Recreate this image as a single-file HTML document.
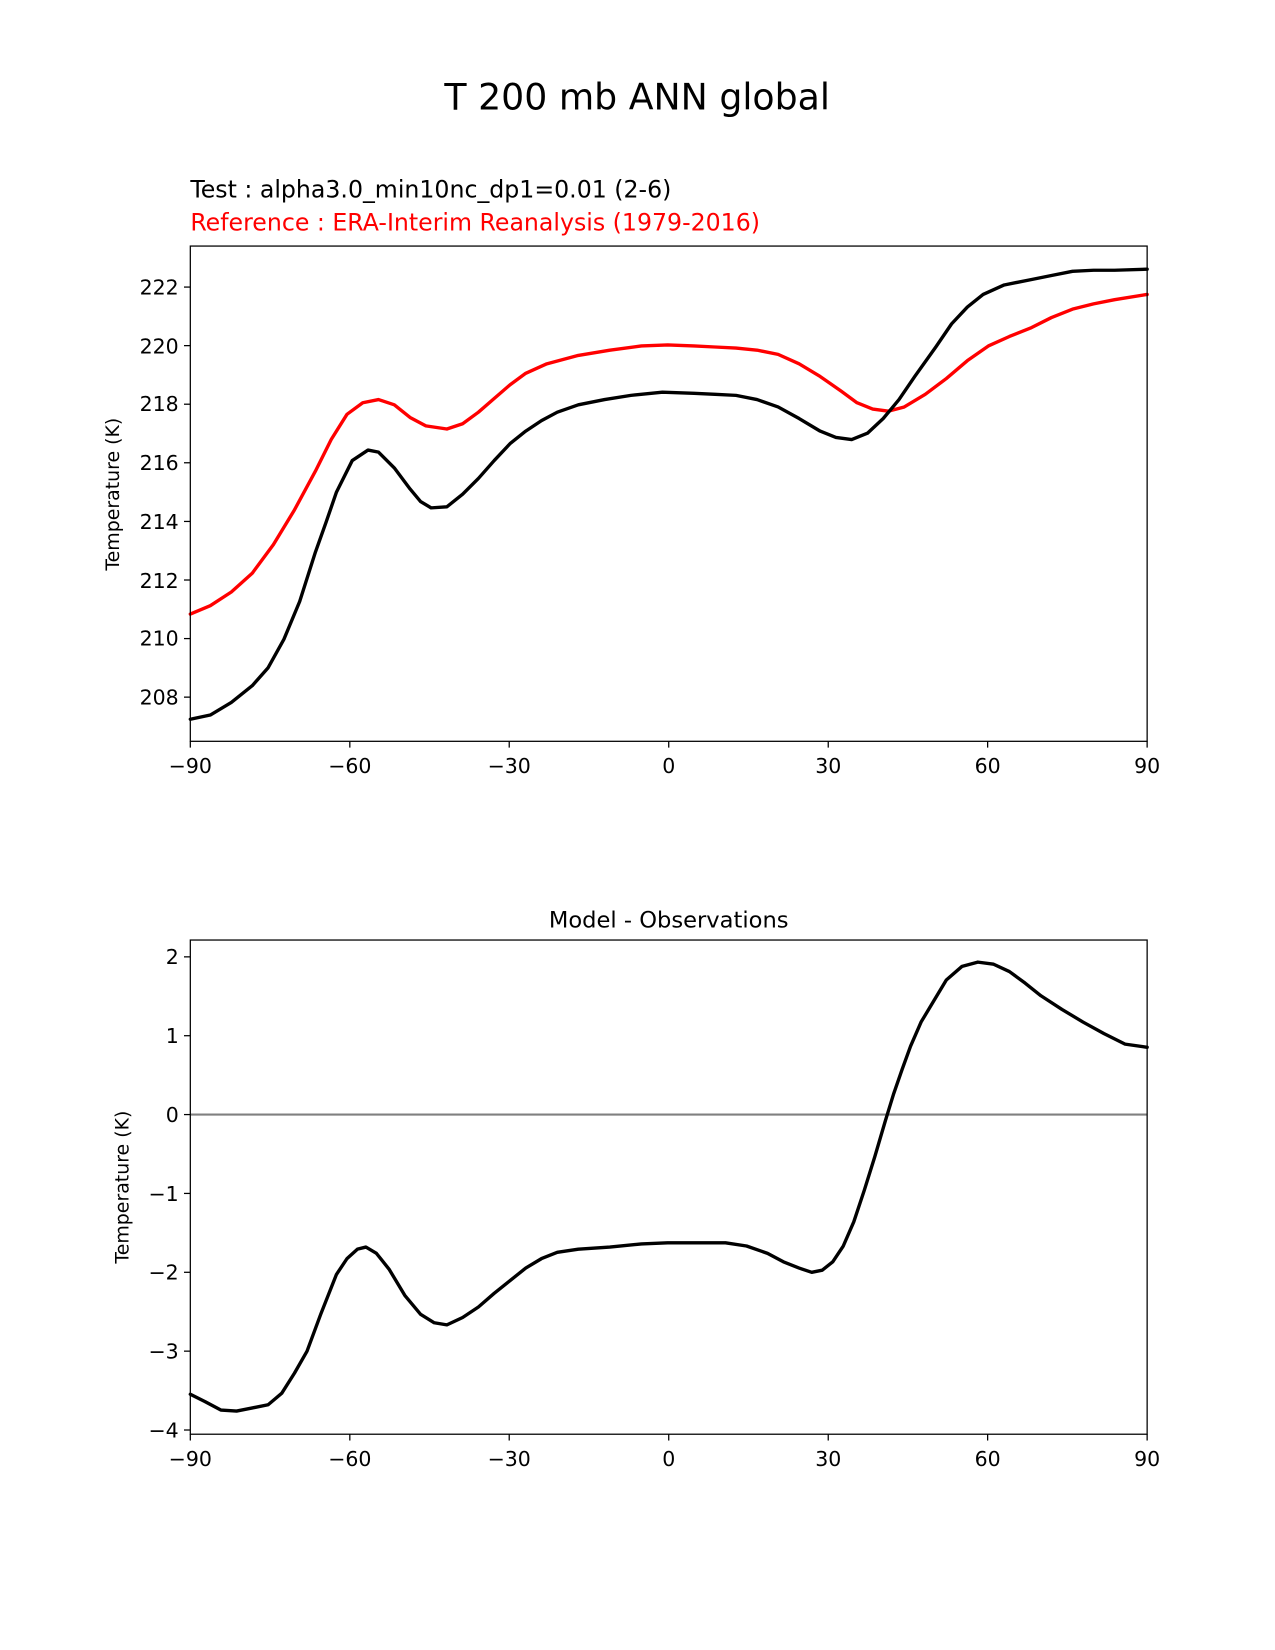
<!DOCTYPE html>
<html><head><style>body{margin:0;background:#fff}svg{display:block}text{font-family:"DejaVu Sans","Liberation Sans",sans-serif}</style></head>
<body>
<svg width="1275" height="1650" viewBox="0 0 1212.6 1569.2" xmlns="http://www.w3.org/2000/svg">
<rect width="1212.6" height="1569.2" fill="#fff"/>
<text x="606" y="104" font-size="34.5" text-anchor="middle">T 200 mb ANN global</text>
<text x="181" y="188" font-size="22.5">Test : alpha3.0_min10nc_dp1=0.01 (2-6)</text>
<text x="181" y="219" font-size="22.5" fill="red">Reference : ERA-Interim Reanalysis (1979-2016)</text>
<g fill="none" stroke-width="3.2" stroke-linejoin="round" stroke-linecap="round">
<polyline stroke="red" points="181,584 200,576 220,563 240,545 260,518 280,485 300,448 315,418 330,394 345,383 360,380 375,385 390,397 405,405 425,408 440,403 455,392 470,379 485,366 500,355 520,346 550,338 580,333 610,329 635,328 660,329 680,330 700,331 720,333 740,337 760,346 780,358 800,372 815,383 830,389 845,391 860,387 880,375 900,360 920,343 940,329 960,320 980,312 1000,302 1020,294 1040,289 1060,285 1091,280"/>
<polyline stroke="#000" points="181,684 200,680 220,668 240,652 255,635 270,608 285,572 300,525 310,497 320,468 335,438 350,428 360,430 375,445 390,465 400,477 410,483 425,482 440,470 455,455 470,438 485,422 500,410 515,400 530,392 550,385 575,380 600,376 630,373 660,374 680,375 700,376 720,380 740,387 760,398 780,410 795,416 810,418 825,412 840,398 855,380 870,358 890,330 905,308 920,292 935,280 955,271 980,266 1000,262 1020,258 1040,257 1060,257 1091,256"/>
</g>
<rect x="181" y="234" width="910" height="471" fill="none" stroke="#000" stroke-width="1.2"/>
<g stroke="#000" stroke-width="1.2">
<line x1="181" y1="705" x2="181" y2="711"/><line x1="332.7" y1="705" x2="332.7" y2="711"/><line x1="484.3" y1="705" x2="484.3" y2="711"/><line x1="636" y1="705" x2="636" y2="711"/><line x1="787.7" y1="705" x2="787.7" y2="711"/><line x1="939.3" y1="705" x2="939.3" y2="711"/><line x1="1091" y1="705" x2="1091" y2="711"/>
<line x1="175" y1="273" x2="181" y2="273"/><line x1="175" y1="328.7" x2="181" y2="328.7"/><line x1="175" y1="384.4" x2="181" y2="384.4"/><line x1="175" y1="440.1" x2="181" y2="440.1"/><line x1="175" y1="495.9" x2="181" y2="495.9"/><line x1="175" y1="551.6" x2="181" y2="551.6"/><line x1="175" y1="607.3" x2="181" y2="607.3"/><line x1="175" y1="663" x2="181" y2="663"/>
</g>
<g font-size="19.5" text-anchor="middle">
<text x="181" y="735">−90</text><text x="332.7" y="735">−60</text><text x="484.3" y="735">−30</text><text x="636" y="735">0</text><text x="787.7" y="735">30</text><text x="939.3" y="735">60</text><text x="1091" y="735">90</text>
</g>
<g font-size="19.5" text-anchor="end">
<text x="170" y="280">222</text><text x="170" y="336">220</text><text x="170" y="391">218</text><text x="170" y="447">216</text><text x="170" y="503">214</text><text x="170" y="559">212</text><text x="170" y="614">210</text><text x="170" y="670">208</text>
</g>
<text transform="translate(113,470) rotate(-90)" font-size="18" text-anchor="middle">Temperature (K)</text>

<text x="636" y="882" font-size="21.5" text-anchor="middle">Model - Observations</text>
<line x1="181" y1="1060" x2="1091" y2="1060" stroke="#808080" stroke-width="2"/>
<polyline fill="none" stroke="#000" stroke-width="3.2" stroke-linejoin="round" stroke-linecap="round" points="181,1326 195,1333 210,1341 225,1342 240,1339 255,1336 268,1325 280,1306 292,1285 305,1250 320,1212 330,1197 340,1188 348,1186 358,1192 370,1207 385,1232 400,1250 413,1258 425,1260 440,1253 455,1243 470,1230 485,1218 500,1206 515,1197 530,1191 550,1188 580,1186 610,1183 635,1182 660,1182 690,1182 710,1185 730,1192 745,1200 760,1206 772,1210 782,1208 792,1200 802,1185 812,1162 822,1132 832,1100 842,1066 850,1040 858,1017 866,995 876,972 888,952 900,932 915,919 930,915 945,917 960,924 975,935 990,947 1010,960 1030,972 1050,983 1070,993 1091,996"/>
<rect x="181" y="894" width="910" height="470" fill="none" stroke="#000" stroke-width="1.2"/>
<g stroke="#000" stroke-width="1.2">
<line x1="181" y1="1364" x2="181" y2="1370"/><line x1="332.7" y1="1364" x2="332.7" y2="1370"/><line x1="484.3" y1="1364" x2="484.3" y2="1370"/><line x1="636" y1="1364" x2="636" y2="1370"/><line x1="787.7" y1="1364" x2="787.7" y2="1370"/><line x1="939.3" y1="1364" x2="939.3" y2="1370"/><line x1="1091" y1="1364" x2="1091" y2="1370"/>
<line x1="175" y1="910" x2="181" y2="910"/><line x1="175" y1="985" x2="181" y2="985"/><line x1="175" y1="1060" x2="181" y2="1060"/><line x1="175" y1="1135" x2="181" y2="1135"/><line x1="175" y1="1210" x2="181" y2="1210"/><line x1="175" y1="1285" x2="181" y2="1285"/><line x1="175" y1="1360" x2="181" y2="1360"/>
</g>
<g font-size="19.5" text-anchor="middle">
<text x="181" y="1394">−90</text><text x="332.7" y="1394">−60</text><text x="484.3" y="1394">−30</text><text x="636" y="1394">0</text><text x="787.7" y="1394">30</text><text x="939.3" y="1394">60</text><text x="1091" y="1394">90</text>
</g>
<g font-size="19.5" text-anchor="end">
<text x="170" y="917">2</text><text x="170" y="992">1</text><text x="170" y="1067">0</text><text x="170" y="1142">−1</text><text x="170" y="1217">−2</text><text x="170" y="1292">−3</text><text x="170" y="1367">−4</text>
</g>
<text transform="translate(122,1129) rotate(-90)" font-size="18" text-anchor="middle">Temperature (K)</text>
</svg>
</body></html>
